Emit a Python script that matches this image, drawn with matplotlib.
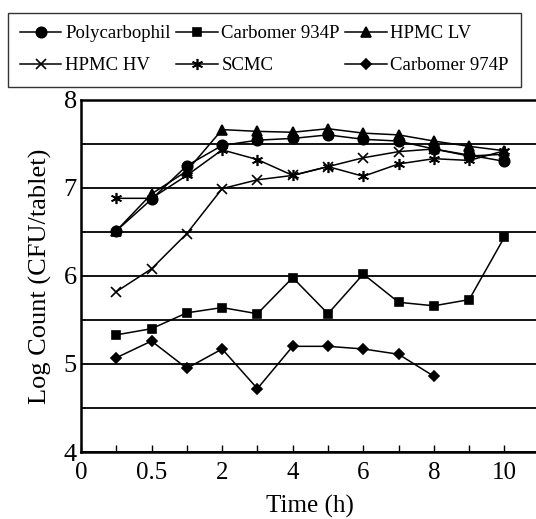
import matplotlib
matplotlib.use("Agg")
import matplotlib.pyplot as plt

# sampling times (h), plotted as evenly spaced categories
times = [0.25, 0.5, 1, 2, 3, 4, 5, 6, 7, 8, 9, 10]

polycarbophil = [6.51, 6.87, 7.25, 7.48, 7.54, 7.56, 7.60, 7.55, 7.53, 7.44, 7.37, 7.30]
carbomer_934p = [5.33, 5.40, 5.58, 5.64, 5.57, 5.98, 5.57, 6.02, 5.70, 5.66, 5.73, 6.44]
hpmc_lv = [6.51, 6.93, 7.19, 7.66, 7.64, 7.63, 7.67, 7.62, 7.60, 7.53, 7.47, 7.42]
hpmc_hv = [5.82, 6.08, 6.48, 6.99, 7.09, 7.14, 7.24, 7.34, 7.41, 7.44, 7.36, 7.38]
scmc = [6.88, 6.88, 7.14, 7.43, 7.32, 7.14, 7.24, 7.13, 7.27, 7.33, 7.31, 7.42]
carbomer_974p = [5.07, 5.26, 4.95, 5.17, 4.72, 5.20, 5.20, 5.17, 5.11, 4.86]

tick_labels = ["0", "0.5", "2", "4", "6", "8", "10"]

plt.rcParams['font.family'] = ['Liberation Serif', 'DejaVu Serif']

fig = plt.figure(figsize=(5.36, 5.19), dpi=100)
ax = fig.add_axes([0.151, 0.129, 0.856, 0.679])

x = list(range(1, len(times) + 1))
lw = 1.1
series = [
    ("Polycarbophil", polycarbophil, "o", 7.5),
    ("Carbomer 934P", carbomer_934p, "s", 6),
    ("HPMC LV", hpmc_lv, "^", 7),
    ("HPMC HV", hpmc_hv, "x", 7),
    ("SCMC", scmc, (6, 2, 0), 8),
    ("Carbomer 974P", carbomer_974p, "D", 5),
]
handles = []
for name, vals, mk, ms in series:
    h, = ax.plot(x[:len(vals)], vals, color="black", lw=lw, marker=mk, ms=ms,
                 mew=1.2, label=name, zorder=3)
    handles.append(h)

ax.set_xlim(0, 13)
ax.set_ylim(4, 8)
ax.set_yticks([4, 5, 6, 7, 8])
ax.set_yticks([4.5, 5.5, 6.5, 7.5], minor=True)
ax.yaxis.grid(True, which="both", color="black", lw=1.3)
ax.set_axisbelow(True)
ax.tick_params(axis="y", length=0, which="both", labelsize=19, pad=3)

ax.set_xticks(range(0, 13))
ax.set_xticklabels([tick_labels[i // 2] if i % 2 == 0 else "" for i in range(13)])
ax.tick_params(axis="x", direction="in", length=5, width=1, labelsize=18, pad=7)

ax.spines["right"].set_visible(False)
for s in ["left", "bottom", "top"]:
    ax.spines[s].set_linewidth(1.8)

ax.set_xlabel("Time (h)", fontsize=18, labelpad=8)
ax.set_ylabel("Log Count (CFU/tablet)", fontsize=19, labelpad=8)

# legend fills row by row: reorder for matplotlib's column-first layout
order = [0, 3, 1, 4, 2, 5]
leg = fig.legend([handles[i] for i in order], [series[i][0] for i in order],
                 loc="upper left", bbox_to_anchor=(8 / 536, 1 - 13 / 519), ncol=3,
                 fontsize=13.5, frameon=True, fancybox=False, handlelength=2.2,
                 handletextpad=0.2, columnspacing=0.3, borderpad=0.65,
                 labelspacing=0.8, borderaxespad=0)
leg.get_frame().set_edgecolor("black")
leg.get_frame().set_linewidth(1.0)

fig.savefig("out.png", dpi=100)
